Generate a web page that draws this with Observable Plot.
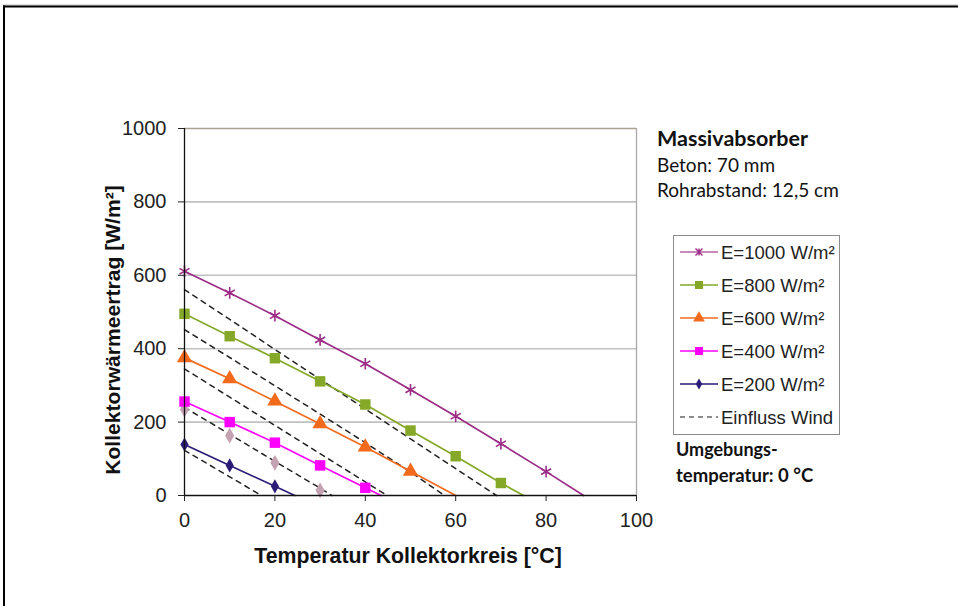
<!DOCTYPE html>
<html>
<head>
<meta charset="utf-8">
<script src="https://cdn.jsdelivr.net/npm/d3@7"></script>
<script src="https://cdn.jsdelivr.net/npm/@observablehq/plot@0.6"></script>
<style>
  html, body { margin: 0; padding: 0; background: #fff; overflow: hidden; }
  #chart { width: 958px; height: 606px; }
</style>
</head>
<body>
<div id="chart"></div>
<script>
// ---- data ----
const seriesNames = ["E=1000 W/m²", "E=800 W/m²", "E=600 W/m²", "E=400 W/m²", "E=200 W/m²"];
const windName = "Einfluss Wind";

// collector temperature [°C] and yield [W/m²]; last point = zero crossing (no marker)
const t1000 = [0, 10, 20, 30, 40, 50, 60, 70, 80, 88.3];
const y1000 = [611, 552, 490, 424, 359, 288, 216, 141, 65, 0];
const t800 = [0, 10, 20, 30, 40, 50, 60, 70, 75];
const y800 = [495, 434, 374, 311, 248, 177, 107, 34, 0];
const t600 = [0, 10, 20, 30, 40, 50, 60];
const y600 = [375, 318, 257, 195, 132, 66, 0];
const t400 = [0, 10, 20, 30, 40, 43.5];
const y400 = [256, 200, 144, 82, 21, 0];
const t200 = [0, 10, 20, 24.4];
const y200 = [139, 82, 25, 0];

// wind influence (dashed)
const tw1000 = [0, 10, 20, 30, 40, 50, 60, 69];
const yw1000 = [561, 480, 398, 317, 236, 154, 73, 0];
const tw800 = [0, 10, 20, 30, 40, 50, 57.5];
const yw800 = [452, 376, 299, 222, 144, 64, 0];
const tw600 = [0, 10, 20, 30, 40, 44.8];
const yw600 = [345, 268, 191, 114, 37, 0];
const tw400 = [0, 10, 20, 30, 32.6];
const yw400 = [240, 167, 93, 20, 0];
const tw200 = [0, 10, 17];
const yw200 = [123, 51, 0];

// grey diamond markers (wind, E=400)
const tDiamond = [0, 10, 20, 30];
const yDiamond = [234, 163, 89, 14];

const xTicks = [0, 20, 40, 60, 80, 100];
const yTicks = [0, 200, 400, 600, 800, 1000];

// ---- styles ----
const colors = ["#9c2c86", "#86a828", "#f26a1c", "#ff00ff", "#2c1c78"];
const symbols = ["asterisk", "square", "triangle", "square", "diamond"];
const symbolR = [5.5, 5.9, 5.7, 5.9, 4.3];

const solid = [[t1000, y1000], [t800, y800], [t600, y600], [t400, y400], [t200, y200]];
const windSets = [[tw1000, yw1000], [tw800, yw800], [tw600, yw600], [tw400, yw400], [tw200, yw200]];

const lineRows = [];
solid.forEach(([t, y], i) => t.forEach((tv, j) => lineRows.push({s: i, t: tv, v: y[j], m: j < t.length - 1})));
const markerRows = lineRows.filter(d => d.m);
const windRows = [];
windSets.forEach(([t, y], i) => t.forEach((tv, j) => windRows.push({s: i, t: tv, v: y[j]})));
const diamondRows = tDiamond.map((t, j) => ({t, v: yDiamond[j]}));

const W = 958, H = 606;
const font = "'Liberation Sans', Arial, sans-serif";
const noteFont = "Lato, 'Open Sans', sans-serif";

const plot = Plot.plot({
  width: W,
  height: H,
  marginLeft: 184,
  marginRight: W - 636,
  marginTop: 128,
  marginBottom: H - 495,
  style: {fontFamily: font, fontSize: "20px", color: "#222", background: "transparent"},
  x: {domain: [0, 100], label: null},
  y: {domain: [0, 1000], label: null},
  marks: [
    Plot.ruleY(yTicks.filter(v => v > 0 && v < 1000), {stroke: "#c0c0c0", strokeWidth: 1.6}),
    Plot.ruleY([1000], {stroke: "#a8a090", strokeWidth: 1.3}),
    Plot.ruleX([100], {stroke: "#a8a8a8", strokeWidth: 1.3}),
    // wind influence dashed
    Plot.line(windRows, {x: "t", y: "v", z: "s", stroke: "#222", strokeWidth: 1.5, strokeDasharray: "5,5"}),
    Plot.dot(diamondRows, {x: "t", y: "v", symbol: "diamond", r: 4.8, fill: "#c4a2b2", stroke: "none"}),
    // solid series
    ...solid.map((_, i) => Plot.line(lineRows.filter(d => d.s === i), {x: "t", y: "v", stroke: colors[i], strokeWidth: 1.7})),
    ...solid.map((_, i) => Plot.dot(markerRows.filter(d => d.s === i), {
      x: "t", y: "v", symbol: symbols[i], r: symbolR[i],
      fill: symbols[i] === "asterisk" ? "none" : colors[i],
      stroke: symbols[i] === "asterisk" ? colors[i] : "none",
      strokeWidth: 1.6
    })),
    Plot.ruleX([0], {stroke: "#111", strokeWidth: 1.3}),
    Plot.ruleY([0], {stroke: "#111", strokeWidth: 1.3}),
    Plot.axisX({ticks: xTicks, tickSize: 6, tickPadding: 11, tickFormat: d => String(d)}),
    Plot.axisY({ticks: yTicks, tickSize: 6, tickPadding: 12, tickFormat: d => String(d)})
  ]
});
document.getElementById("chart").appendChild(plot);

const svg = d3.select(plot);

// outer frame (top + left)
svg.append("line").attr("x1", 3).attr("x2", W).attr("y1", 5).attr("y2", 5).attr("stroke", "#bbb").attr("stroke-width", 1);
svg.append("line").attr("x1", 3).attr("x2", W).attr("y1", 6.5).attr("y2", 6.5).attr("stroke", "#000").attr("stroke-width", 2);
svg.append("line").attr("x1", 4).attr("x2", 4).attr("y1", 5.5).attr("y2", H).attr("stroke", "#000").attr("stroke-width", 2);

// axis titles
svg.append("text").attr("x", 408).attr("y", 563).attr("text-anchor", "middle")
  .attr("font-family", font).attr("font-weight", "bold").attr("font-size", 21.3).attr("fill", "#111")
  .text("Temperatur Kollektorkreis [°C]");
svg.append("text").attr("transform", "translate(120,330) rotate(-90)").attr("text-anchor", "middle")
  .attr("font-family", font).attr("font-weight", "bold").attr("font-size", 21.1).attr("fill", "#111")
  .text("Kollektorwärmeertrag [W/m²]");

// notes
const notes = [
  {text: "Massivabsorber", x: 657, y: 146, size: 21.5, weight: "bold"},
  {text: "Beton: 70 mm", x: 657, y: 172, size: 19, weight: "normal"},
  {text: "Rohrabstand: 12,5 cm", x: 657, y: 197, size: 19, weight: "normal"},
  {text: "Umgebungs-", x: 676, y: 456, size: 18, weight: "bold"},
  {text: "temperatur: 0 °C", x: 676, y: 482, size: 18.5, weight: "bold"}
];
notes.forEach(n => svg.append("text").attr("x", n.x).attr("y", n.y).attr("text-anchor", "start")
  .attr("font-family", noteFont).attr("font-size", n.size).attr("font-weight", n.weight)
  .attr("fill", "#111").text(n.text));

// legend
const lg = svg.append("g").attr("text-anchor", "start");
lg.append("rect").attr("x", 673.5).attr("y", 235.5).attr("width", 166).attr("height", 199)
  .attr("fill", "#fff").attr("stroke", "#8c8c8c").attr("stroke-width", 1);
const d3sym = {square: d3.symbolSquare, triangle: d3.symbolTriangle, diamond: d3.symbolDiamond};
const allNames = [...seriesNames, windName];
allNames.forEach((name, i) => {
  const y = 252 + 33 * i;
  if (i < 5) {
    lg.append("line").attr("x1", 680).attr("x2", 718).attr("y1", y).attr("y2", y)
      .attr("stroke", colors[i]).attr("stroke-width", 1.7).attr("opacity", i === 0 ? 0.75 : 1);
    if (symbols[i] === "asterisk") {
      const r = 3.5;
      lg.append("path").attr("transform", `translate(699,${y})`)
        .attr("d", `M${-r},${-r}L${r},${r}M${-r},${r}L${r},${-r}M0,${-r}L0,${r}`)
        .attr("stroke", colors[i]).attr("stroke-width", 1.4).attr("fill", "none");
    } else {
      const size = symbols[i] === "diamond" ? 36 : symbols[i] === "square" ? 64 : 60;
      lg.append("path").attr("transform", `translate(699,${y})`)
        .attr("d", d3.symbol(d3sym[symbols[i]], size)()).attr("fill", colors[i]);
    }
  } else {
    lg.append("line").attr("x1", 680).attr("x2", 718).attr("y1", y).attr("y2", y)
      .attr("stroke", "#666").attr("stroke-width", 1.5).attr("stroke-dasharray", "5,4");
  }
  lg.append("text").attr("x", 721).attr("y", y + 6.5).attr("text-anchor", "start")
    .attr("font-family", font).attr("font-size", 18.5).attr("fill", "#222").text(name);
});
</script>
</body>
</html>
